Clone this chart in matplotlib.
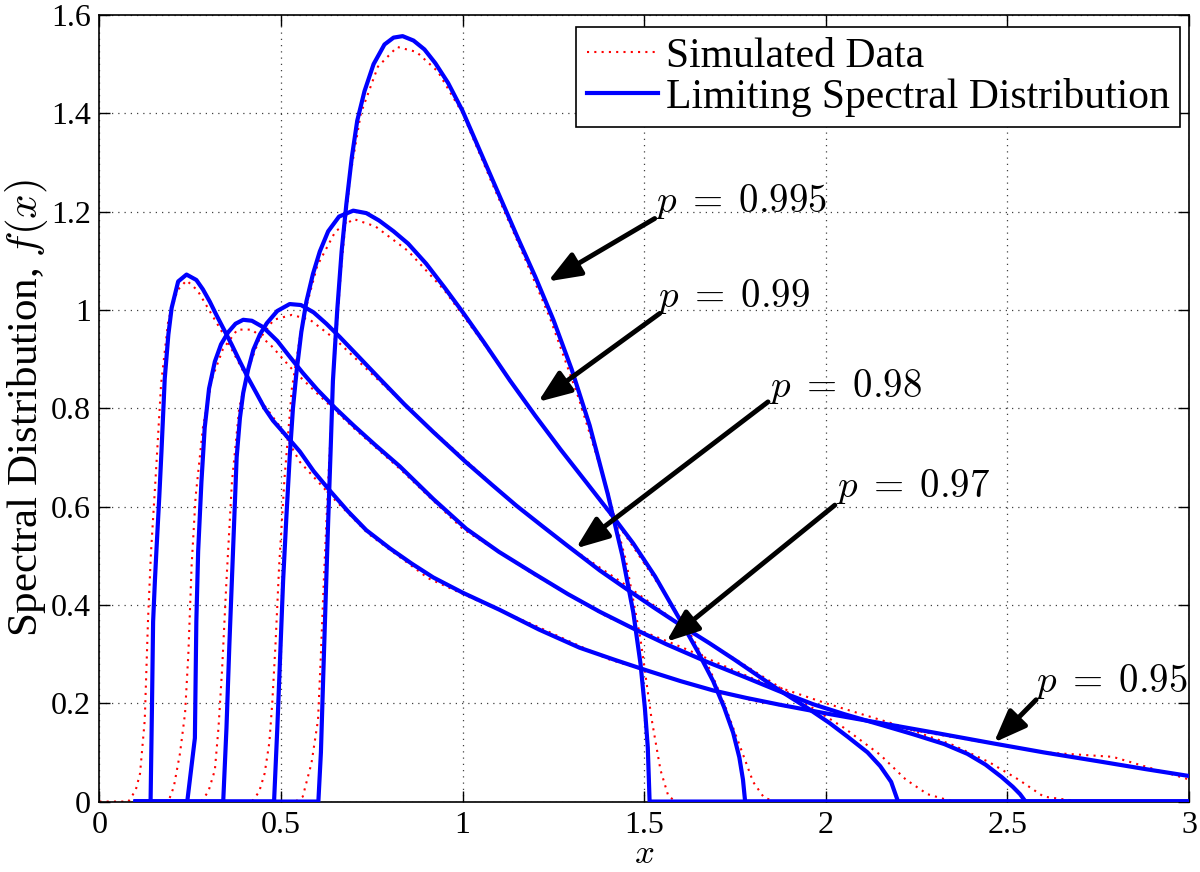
"""
Limiting spectral distribution vs simulated data for several values of p.
"""

import matplotlib

matplotlib.use("Agg")
import matplotlib.pyplot as plt

plt.rcParams["font.family"] = "Liberation Serif"
plt.rcParams["mathtext.fontset"] = "cm"

# limiting spectral distribution curves
lsd_x_995 = [0.10, 0.603, 0.610, 0.616, 0.623, 0.630, 0.637, 0.643, 0.655, 0.667, 0.680,
             0.695, 0.710, 0.730, 0.755, 0.785, 0.810, 0.835, 0.865, 0.895, 0.925, 0.960,
             1.000, 1.050, 1.100, 1.150, 1.200, 1.250, 1.300, 1.350, 1.400, 1.440, 1.470,
             1.490, 1.502, 1.510, 1.515, 3.0]
lsd_y_995 = [0, 0, 0.100, 0.245, 0.410, 0.570, 0.720, 0.855, 1.000, 1.119, 1.215,
             1.310, 1.385, 1.445, 1.500, 1.540, 1.554, 1.557, 1.548, 1.530, 1.502, 1.462,
             1.405, 1.320, 1.235, 1.150, 1.068, 0.980, 0.880, 0.765, 0.625, 0.500, 0.385,
             0.280, 0.190, 0.110, 0, 0]

lsd_x_99 = [0.10, 0.481, 0.490, 0.498, 0.506, 0.515, 0.524, 0.533, 0.543, 0.556, 0.570,
            0.588, 0.607, 0.630, 0.660, 0.699, 0.735, 0.770, 0.810, 0.850, 0.900, 0.950,
            1.000, 1.060, 1.130, 1.200, 1.270, 1.340, 1.415, 1.470, 1.530, 1.600, 1.650,
            1.690, 1.720, 1.745, 1.762, 1.772, 1.778, 3.0]
lsd_y_99 = [0, 0, 0.150, 0.300, 0.450, 0.580, 0.700, 0.800, 0.875, 0.955, 1.017,
            1.073, 1.119, 1.160, 1.190, 1.202, 1.197, 1.182, 1.160, 1.135, 1.094, 1.046,
            0.996, 0.933, 0.857, 0.785, 0.716, 0.650, 0.579, 0.525, 0.458, 0.368, 0.302,
            0.245, 0.192, 0.140, 0.090, 0.045, 0, 0]

lsd_x_98 = [0.10, 0.341, 0.350, 0.358, 0.368, 0.378, 0.387, 0.396, 0.410, 0.424, 0.442,
            0.461, 0.490, 0.524, 0.555, 0.590, 0.625, 0.662, 0.710, 0.772, 0.840, 0.919,
            1.010, 1.080, 1.148, 1.220, 1.286, 1.378, 1.460, 1.530, 1.598, 1.680, 1.750,
            1.873, 1.950, 2.010, 2.060, 2.115, 2.150, 2.180, 2.199, 3.0]
lsd_y_98 = [0, 0, 0.150, 0.320, 0.509, 0.700, 0.780, 0.831, 0.880, 0.919, 0.950,
            0.973, 0.998, 1.012, 1.010, 0.995, 0.972, 0.945, 0.908, 0.860, 0.808, 0.752,
            0.690, 0.645, 0.602, 0.560, 0.522, 0.470, 0.428, 0.393, 0.360, 0.322, 0.288,
            0.226, 0.190, 0.160, 0.132, 0.100, 0.072, 0.040, 0, 0]

lsd_x_97 = [0.10, 0.242, 0.263, 0.267, 0.272, 0.281, 0.290, 0.302, 0.318, 0.335, 0.355,
            0.375, 0.396, 0.420, 0.451, 0.490, 0.524, 0.560, 0.600, 0.650, 0.700, 0.760,
            0.827, 0.920, 1.010, 1.100, 1.194, 1.290, 1.378, 1.470, 1.561, 1.670, 1.781,
            1.870, 1.965, 2.050, 2.148, 2.240, 2.326, 2.390, 2.440, 2.484, 2.515, 2.535,
            2.550, 3.0]
lsd_y_97 = [0, 0, 0.129, 0.366, 0.509, 0.650, 0.760, 0.840, 0.895, 0.930, 0.955,
            0.972, 0.980, 0.978, 0.965, 0.937, 0.905, 0.872, 0.838, 0.800, 0.765, 0.725,
            0.682, 0.615, 0.555, 0.508, 0.465, 0.422, 0.386, 0.352, 0.320, 0.285, 0.252,
            0.225, 0.198, 0.178, 0.157, 0.137, 0.117, 0.097, 0.075, 0.050, 0.030, 0.015,
            0, 0]

lsd_x_95 = [0.10, 0.141, 0.145, 0.148, 0.153, 0.157, 0.165, 0.171, 0.180, 0.190, 0.199,
            0.217, 0.240, 0.267, 0.285, 0.304, 0.322, 0.341, 0.364, 0.387, 0.410, 0.433,
            0.455, 0.478, 0.510, 0.552, 0.590, 0.634, 0.685, 0.735, 0.800, 0.860, 0.919,
            1.000, 1.102, 1.210, 1.322, 1.420, 1.506, 1.600, 1.690, 1.780, 1.873, 2.010,
            2.148, 2.300, 2.463, 2.600, 2.750, 2.880, 3.0]
lsd_y_95 = [0, 0, 0.200, 0.366, 0.450, 0.509, 0.620, 0.712, 0.860, 0.950, 1.004,
            1.058, 1.072, 1.061, 1.042, 1.017, 0.990, 0.963, 0.930, 0.895, 0.861, 0.830,
            0.800, 0.775, 0.748, 0.712, 0.672, 0.633, 0.590, 0.552, 0.515, 0.484, 0.456,
            0.425, 0.390, 0.350, 0.313, 0.288, 0.267, 0.245, 0.226, 0.211, 0.197, 0.178,
            0.160, 0.140, 0.118, 0.100, 0.082, 0.066, 0.052]

# simulated (histogram) data
sim_x_995 = [0.10, 0.540, 0.560, 0.584, 0.602, 0.610, 0.618, 0.630, 0.645, 0.665, 0.690,
             0.720, 0.767, 0.820, 0.873, 0.932, 1.000, 1.080, 1.160, 1.240, 1.320, 1.400,
             1.450, 1.490, 1.520, 1.545, 1.567, 1.590]
sim_y_995 = [0, 0, 0.010, 0.078, 0.166, 0.300, 0.450, 0.650, 0.870, 1.080, 1.270,
             1.400, 1.495, 1.535, 1.525, 1.485, 1.400, 1.260, 1.125, 0.985, 0.820, 0.630,
             0.490, 0.330, 0.170, 0.064, 0.010, 0]

sim_x_99 = [0.10, 0.420, 0.440, 0.455, 0.468, 0.476, 0.485, 0.495, 0.510, 0.530, 0.560,
            0.600, 0.650, 0.700, 0.760, 0.850, 0.950, 1.050, 1.150, 1.250, 1.350, 1.450,
            1.550, 1.620, 1.680, 1.720, 1.760, 1.800, 1.830, 1.860]
sim_y_99 = [0, 0, 0.020, 0.057, 0.120, 0.200, 0.320, 0.480, 0.660, 0.840, 0.980,
            1.090, 1.160, 1.185, 1.170, 1.120, 1.040, 0.940, 0.835, 0.735, 0.640, 0.540,
            0.430, 0.350, 0.270, 0.200, 0.120, 0.040, 0.008, 0]

sim_x_98 = [0.10, 0.280, 0.300, 0.318, 0.328, 0.338, 0.350, 0.365, 0.385, 0.410, 0.440,
            0.480, 0.530, 0.580, 0.650, 0.750, 0.880, 1.000, 1.150, 1.300, 1.450, 1.600,
            1.750, 1.900, 2.050, 2.150, 2.220, 2.280, 2.350]
sim_y_98 = [0, 0, 0.020, 0.064, 0.150, 0.270, 0.450, 0.650, 0.800, 0.880, 0.940,
            0.980, 0.990, 0.980, 0.940, 0.870, 0.780, 0.700, 0.600, 0.515, 0.440, 0.360,
            0.290, 0.220, 0.150, 0.095, 0.045, 0.015, 0]

sim_x_97 = [0.10, 0.190, 0.205, 0.222, 0.236, 0.245, 0.254, 0.265, 0.285, 0.310, 0.340,
            0.380, 0.420, 0.470, 0.530, 0.600, 0.700, 0.830, 1.000, 1.200, 1.400, 1.600,
            1.800, 2.000, 2.200, 2.350, 2.450, 2.530, 2.600, 2.700]
sim_y_97 = [0, 0, 0.030, 0.098, 0.180, 0.300, 0.480, 0.620, 0.760, 0.860, 0.920,
            0.960, 0.960, 0.930, 0.880, 0.830, 0.760, 0.675, 0.555, 0.460, 0.375, 0.315,
            0.250, 0.200, 0.155, 0.115, 0.080, 0.045, 0.010, 0]

sim_x_95 = [0.00, 0.080, 0.100, 0.112, 0.125, 0.134, 0.142, 0.155, 0.170, 0.190, 0.215,
            0.240, 0.270, 0.310, 0.350, 0.400, 0.450, 0.500, 0.552, 0.640, 0.740, 0.906,
            1.055, 1.206, 1.400, 1.600, 1.800, 2.000, 2.200, 2.400, 2.600, 2.790, 3.000]
sim_y_95 = [0, 0, 0.023, 0.057, 0.166, 0.370, 0.505, 0.660, 0.850, 0.980, 1.040,
            1.060, 1.040, 0.990, 0.940, 0.870, 0.810, 0.760, 0.691, 0.620, 0.545, 0.454,
            0.404, 0.356, 0.290, 0.245, 0.205, 0.180, 0.150, 0.125, 0.100, 0.091, 0.045]

sim_curves = [(sim_x_95, sim_y_95), (sim_x_97, sim_y_97), (sim_x_98, sim_y_98),
              (sim_x_99, sim_y_99), (sim_x_995, sim_y_995)]
lsd_curves = [(lsd_x_95, lsd_y_95), (lsd_x_97, lsd_y_97), (lsd_x_98, lsd_y_98),
              (lsd_x_99, lsd_y_99), (lsd_x_995, lsd_y_995)]

# annotation labels: text, text position, arrow tail, arrow tip
p_labels = [r"$p\;=\;0.995$", r"$p\;=\;0.99$", r"$p\;=\;0.98$", r"$p\;=\;0.97$",
            r"$p\;=\;0.95$"]
label_pos = [(1.53, 1.199), (1.535, 1.007), (1.843, 0.822), (2.027, 0.620), (2.575, 0.223)]
arrow_tail = [(1.529, 1.186), (1.543, 0.993), (1.841, 0.813), (2.025, 0.603), (2.579, 0.207)]
arrow_tip = [(1.235, 1.058), (1.208, 0.813), (1.312, 0.515), (1.561, 0.325), (2.463, 0.120)]

x_ticks = [0, 0.5, 1, 1.5, 2, 2.5, 3]
x_tick_labels = ["0", "0.5", "1", "1.5", "2", "2.5", "3"]
y_ticks = [0, 0.2, 0.4, 0.6, 0.8, 1.0, 1.2, 1.4, 1.6]
y_tick_labels = ["0", "0.2", "0.4", "0.6", "0.8", "1", "1.2", "1.4", "1.6"]

fig = plt.figure(figsize=(12, 8.72), dpi=100)
ax = fig.add_axes([0.0828, 0.0808, 0.908, 0.902])

for i, (sx, sy) in enumerate(sim_curves):
    ax.plot(sx, sy, color="red", linestyle=(0, (1, 2.5)), linewidth=1.5, zorder=2,
            label="Simulated Data" if i == 0 else None)
for i, (lx, ly) in enumerate(lsd_curves):
    ax.plot(lx, ly, color="blue", linewidth=3, zorder=3, solid_joinstyle="round",
            label="Limiting Spectral Distribution" if i == 0 else None)

# arrows and p labels
for txt, pos, tail, tip in zip(p_labels, label_pos, arrow_tail, arrow_tip):
    ax.annotate("", xy=tip, xytext=tail,
                arrowprops=dict(arrowstyle="-|>,head_length=0.9,head_width=0.35",
                                color="black", lw=3.5, shrinkA=0, shrinkB=0,
                                mutation_scale=22),
                zorder=4)
    ax.text(pos[0], pos[1], txt, fontsize=28, ha="left", va="baseline", zorder=5)

ax.set_xlim(0, 3)
ax.set_ylim(0, 1.6)
ax.set_xticks(x_ticks)
ax.set_xticklabels(x_tick_labels)
ax.set_yticks(y_ticks)
ax.set_yticklabels(y_tick_labels)
ax.tick_params(direction="in", top=True, right=True, length=8, width=1,
               labelsize=23, pad=6)
ax.tick_params(axis="x", pad=7)
ax.grid(True, color="0.25", linestyle=(0, (1, 4)), linewidth=0.9)
for s in ax.spines.values():
    s.set_linewidth(1.2)

# x label sits at the very bottom of the figure, under the tick labels
ax.set_xlabel("$x$", fontsize=25, va="bottom")
ax.xaxis.set_label_coords(0.5, -0.088)
ax.set_ylabel("Spectral Distribution, $f(x)$", fontsize=31, labelpad=1)

leg = ax.legend(loc="upper right", bbox_to_anchor=(0.992, 0.985), borderaxespad=0,
                fontsize=30, fancybox=False, framealpha=1, edgecolor="black",
                handlelength=1.7, handletextpad=0.2, labelspacing=0.05, borderpad=0.25)
leg.get_frame().set_linewidth(1.2)

plt.savefig("out.png", dpi=100)
